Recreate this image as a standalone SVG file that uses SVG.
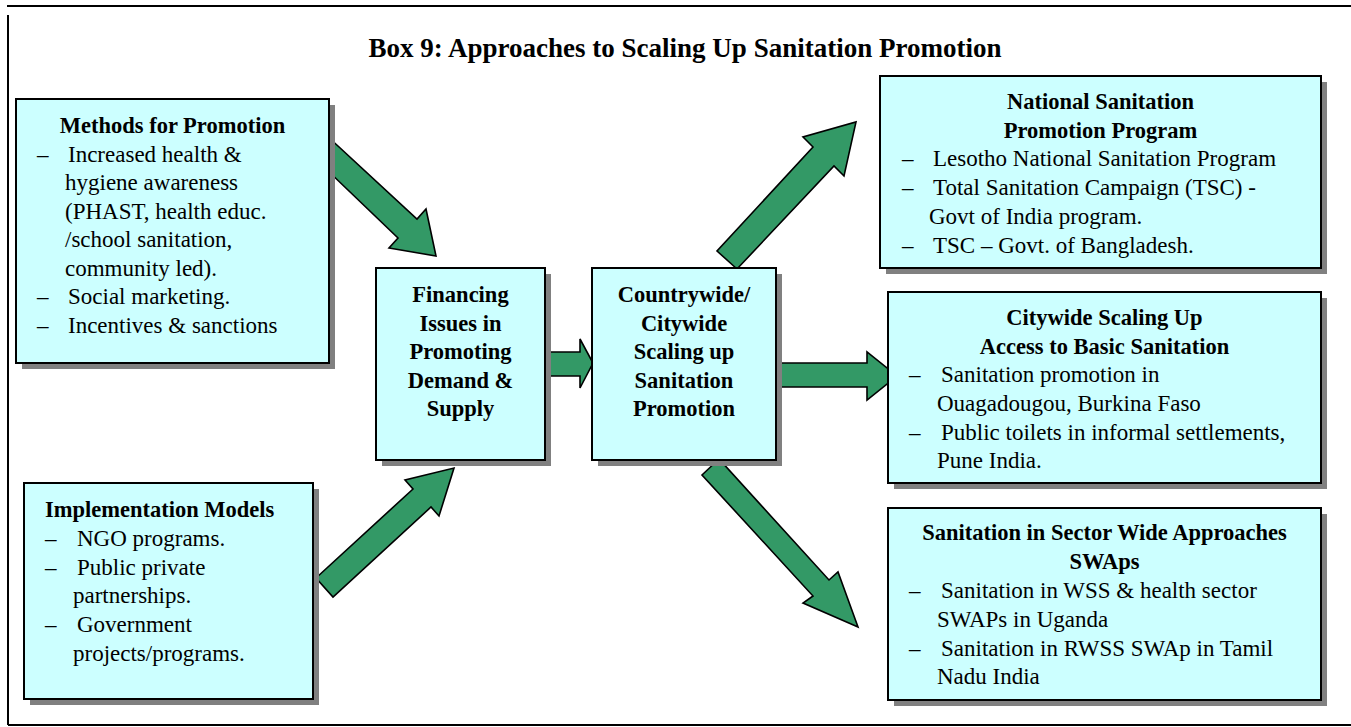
<svg xmlns="http://www.w3.org/2000/svg" width="1351" height="727" viewBox="0 0 1351 727">
<style>
.frame{stroke:#000;stroke-width:2;fill:none}
.shadow{fill:#808080}
.box{fill:#CCFFFF;stroke:#000;stroke-width:2}
.arrow{fill:#339966;stroke:#000;stroke-width:1.6;stroke-linejoin:miter}
text{font-family:"Liberation Serif","Times New Roman",serif;fill:#000}
.t{font-size:22.5px;font-weight:bold}
.b{font-size:23px}
.c{text-anchor:middle}
.title{font-size:27px;font-weight:bold;text-anchor:middle}
</style>
<rect width="1351" height="727" fill="#fff"/>
<g id="frame">
<line class="frame" x1="7" y1="6" x2="1351" y2="6"/>
<line class="frame" x1="8" y1="15" x2="8" y2="725"/>
<line class="frame" x1="8" y1="725" x2="1351" y2="725"/>
<text class="title" x="685" y="57">Box 9: Approaches to Scaling Up Sanitation Promotion</text>
</g>
<g id="connectors">
<polygon class="arrow" points="325,134 417,219 426,209 436,256 389,248 398,238 325,168"/>
<polygon class="arrow" points="316,578 413,489 405,480 454,468 439,516 431,507 333,597"/>
<polygon class="arrow" points="540,352 580,352 580,339 593,363 580,388 580,376 540,376"/>
<polygon class="arrow" points="770,363 867,363 867,352 897,376 867,400 867,387 770,387"/>
<polygon class="arrow" points="737,269 717,251 813,147 803,137 856,122 844,176 834,166"/>
<polygon class="arrow" points="719,459 702,475 813,596 803,603 858,627 838,572 829,580"/>
</g>
<g id="methods">
<rect class="shadow" x="22" y="105" width="313" height="264"/>
<rect class="box" x="16" y="99" width="313" height="264"/>
<text class="t c" x="172.5" y="133">Methods for Promotion</text>
<text class="b" x="37" y="161.5">–</text><text class="b" x="68" y="161.5">Increased health &amp;</text>
<text class="b" x="65" y="190">hygiene awareness</text>
<text class="b" x="65" y="218.5">(PHAST, health educ.</text>
<text class="b" x="65" y="247">/school sanitation,</text>
<text class="b" x="65" y="275.5">community led).</text>
<text class="b" x="37" y="304">–</text><text class="b" x="68" y="304">Social marketing.</text>
<text class="b" x="37" y="332.5">–</text><text class="b" x="68" y="332.5">Incentives &amp; sanctions</text>
</g>
<g id="implementation">
<rect class="shadow" x="30" y="489" width="289" height="216"/>
<rect class="box" x="24" y="483" width="289" height="216"/>
<text class="t" x="45" y="517">Implementation Models</text>
<text class="b" x="45" y="546">–</text><text class="b" x="77" y="546">NGO programs.</text>
<text class="b" x="45" y="574.5">–</text><text class="b" x="77" y="574.5">Public private</text>
<text class="b" x="73" y="603">partnerships.</text>
<text class="b" x="45" y="632">–</text><text class="b" x="77" y="632">Government</text>
<text class="b" x="73" y="661">projects/programs.</text>
</g>
<g id="financing">
<rect class="shadow" x="382" y="274" width="169" height="192"/>
<rect class="box" x="376" y="268" width="169" height="192"/>
<text class="t c" x="460.5" y="302">Financing</text>
<text class="t c" x="460.5" y="330.5">Issues in</text>
<text class="t c" x="460.5" y="359">Promoting</text>
<text class="t c" x="460.5" y="387.5">Demand &amp;</text>
<text class="t c" x="460.5" y="416">Supply</text>
</g>
<g id="countrywide">
<rect class="shadow" x="598" y="274" width="184" height="192"/>
<rect class="box" x="592" y="268" width="184" height="192"/>
<text class="t c" x="684" y="302">Countrywide/</text>
<text class="t c" x="684" y="330.5">Citywide</text>
<text class="t c" x="684" y="359">Scaling up</text>
<text class="t c" x="684" y="387.5">Sanitation</text>
<text class="t c" x="684" y="416">Promotion</text>
</g>
<g id="national">
<rect class="shadow" x="886" y="82" width="441" height="192"/>
<rect class="box" x="880" y="76" width="441" height="192"/>
<text class="t c" x="1100.5" y="109">National Sanitation</text>
<text class="t c" x="1100.5" y="137.5">Promotion Program</text>
<text class="b" x="902" y="166">–</text><text class="b" x="933" y="166">Lesotho National Sanitation Program</text>
<text class="b" x="902" y="195">–</text><text class="b" x="933" y="195">Total Sanitation Campaign (TSC) -</text>
<text class="b" x="929" y="224">Govt of India program.</text>
<text class="b" x="902" y="253">–</text><text class="b" x="933" y="253">TSC – Govt. of Bangladesh.</text>
</g>
<g id="citywide">
<rect class="shadow" x="894" y="298" width="433" height="191"/>
<rect class="box" x="888" y="292" width="433" height="191"/>
<text class="t c" x="1104.5" y="325">Citywide Scaling Up</text>
<text class="t c" x="1104.5" y="353.5">Access to Basic Sanitation</text>
<text class="b" x="909" y="382">–</text><text class="b" x="941" y="382">Sanitation promotion in</text>
<text class="b" x="937" y="411">Ouagadougou, Burkina Faso</text>
<text class="b" x="909" y="440">–</text><text class="b" x="941" y="440">Public toilets in informal settlements,</text>
<text class="b" x="937" y="468">Pune India.</text>
</g>
<g id="swaps">
<rect class="shadow" x="894" y="514" width="433" height="192"/>
<rect class="box" x="888" y="508" width="433" height="192"/>
<text class="t c" x="1104.5" y="540">Sanitation in Sector Wide Approaches</text>
<text class="t c" x="1104.5" y="569">SWAps</text>
<text class="b" x="909" y="598">–</text><text class="b" x="941" y="598">Sanitation in WSS &amp; health sector</text>
<text class="b" x="937" y="627">SWAPs in Uganda</text>
<text class="b" x="909" y="655.5">–</text><text class="b" x="941" y="655.5">Sanitation in RWSS SWAp in Tamil</text>
<text class="b" x="937" y="684">Nadu India</text>
</g>
</svg>
